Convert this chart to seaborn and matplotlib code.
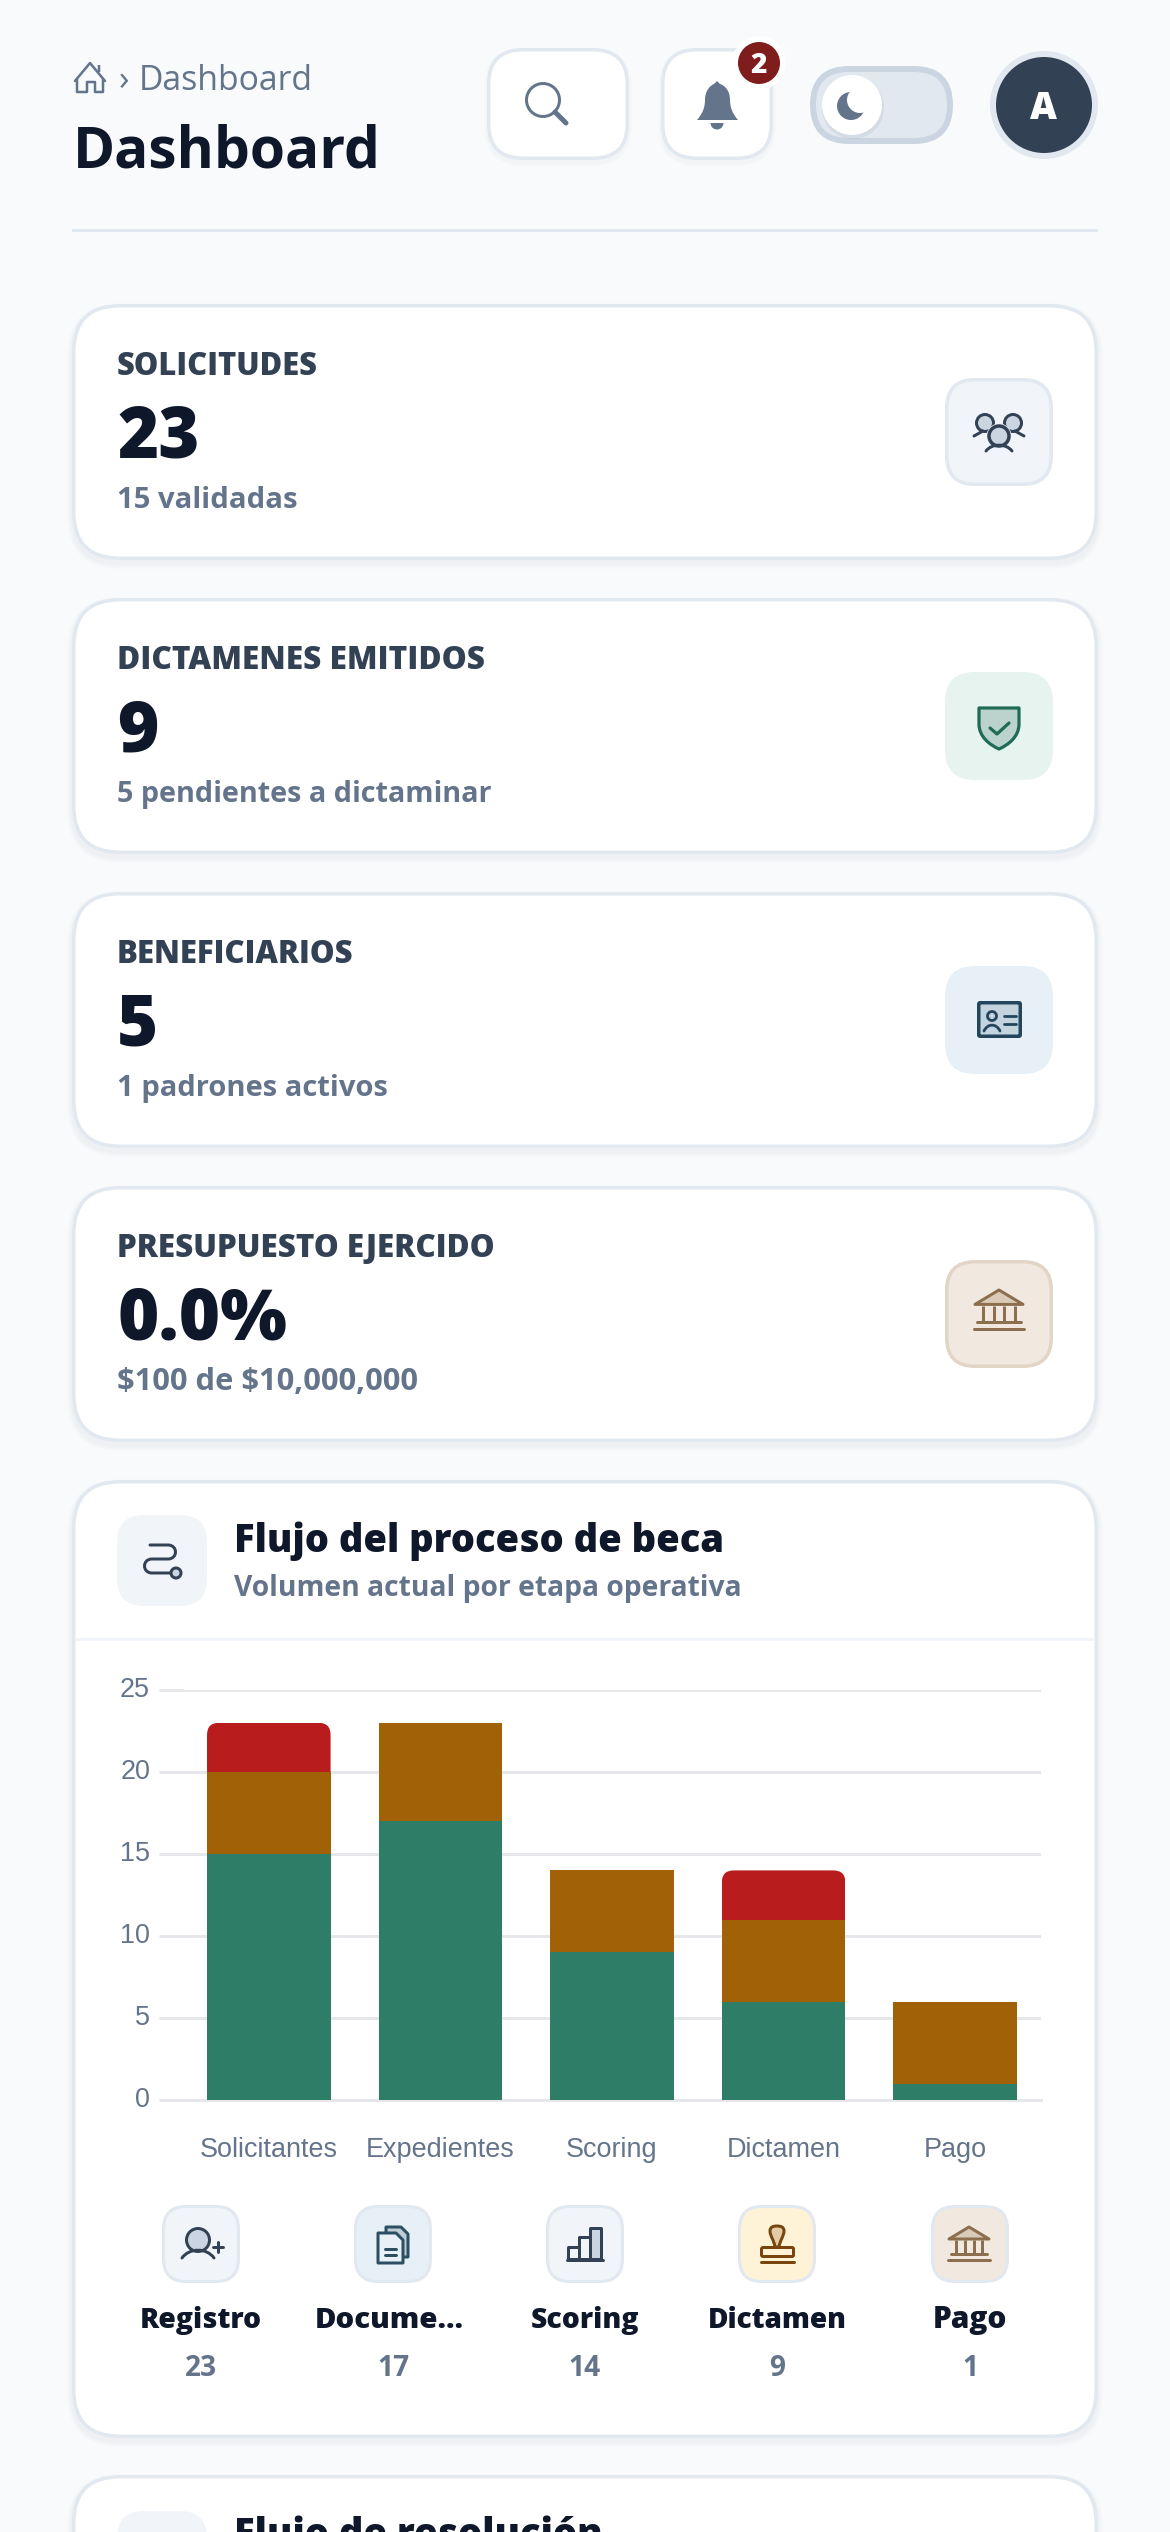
import matplotlib
matplotlib.use("Agg")
import matplotlib.pyplot as plt
import pandas as pd
import seaborn as sns
from matplotlib.font_manager import FontProperties
from matplotlib.patches import FancyBboxPatch, Circle, Wedge, PathPatch, Polygon, Rectangle
from matplotlib.path import Path
from matplotlib.textpath import TextPath
from matplotlib.transforms import IdentityTransform, ScaledTranslation

# ---------- data ----------
stages = ["Solicitantes", "Expedientes", "Scoring", "Dictamen", "Pago"]
validated = [15, 17, 9, 6, 1]
pending = [5, 6, 5, 5, 5]
rejected = [3, 0, 0, 3, 0]
y_ticks = [0, 5, 10, 15, 20, 25]

kpi_labels = ["SOLICITUDES", "DICTAMENES EMITIDOS", "BENEFICIARIOS", "PRESUPUESTO EJERCIDO"]
kpi_values = ["23", "9", "5", "0.0%"]
kpi_subs = ["15 validadas", "5 pendientes a dictaminar", "1 padrones activos", "$100 de $10,000,000"]

step_labels = ["Registro", "Docume...", "Scoring", "Dictamen", "Pago"]
step_counts = [23, 17, 14, 9, 1]

# text widths in pixels, as measured on the reference
kpi_label_widths = [199, 365, 234, 374]
kpi_sub_widths = [177, 373, 268, 299]
step_label_widths = [119, 145, 107, 135, 71]

W, H = 1170, 2532
DPI = 100
PT = 72 / DPI
FAM = "Open Sans"

BG = "#F8FAFC"; BORDER = "#E2E8F0"; INK = "#0F172A"; SLATE = "#334155"; MUTED = "#64748B"
GREEN = "#2E7D67"; AMBER = "#A16207"; RED = "#B91C1C"; GRID = "#E5E7EB"

sns.set_theme(style="white")
plt.rcParams["font.family"] = [FAM, "DejaVu Sans"]

fig = plt.figure(figsize=(W / DPI, H / DPI), dpi=DPI, facecolor=BG)
ui = fig.add_axes([0, 0, 1, 1], zorder=0)
ui.set_xlim(0, W); ui.set_ylim(H, 0); ui.axis("off")


def fit(s, width, weight):
    """Font size in pixels at which s in FAM is width pixels wide."""
    ext = TextPath((0, 0), s.replace("$", r"\$"), size=100,
                   prop=FontProperties(family=FAM, weight=weight)).get_extents()
    return 100 * width / ext.width


CRUMB_PX = fit("Dashboard", 168, 400)
TITLE_PX = fit("Dashboard", 299, 700)
VALUE_PX = fit("0.0%", 166, 800)
HEAD_PX = fit("Flujo del proceso de beca", 485, 800)
HSUB_PX = fit("Volumen actual por etapa operativa", 505, 700)
COUNT_PX = fit("23", 30, 700)


def rrect(x0, y0, x1, y1, r, fc, ec="none", lw=0.0, z=1, alpha=None):
    """Rounded box whose outer edge is x0..x1, y0..y1 in pixels."""
    i = lw / 2
    rr = max(r - i, 0.1)
    p = FancyBboxPatch((x0 + i + rr, y0 + i + rr), x1 - x0 - 2 * i - 2 * rr, y1 - y0 - 2 * i - 2 * rr,
                       boxstyle=f"round,pad={rr},rounding_size={rr}", fc=fc, ec=ec, lw=lw * PT,
                       zorder=z, alpha=alpha, joinstyle="round")
    ui.add_patch(p)
    return p


def shadow(x0, y0, x1, y1, r, dy=4, spread=10, z=0.5):
    for k in range(spread, 0, -2):
        rrect(x0 - k * 0.5, y0 + dy - k * 0.5, x1 + k * 0.5, y1 + dy + k * 0.5, r + k * 0.5,
              "#94A3B8", z=z, alpha=0.016)


def card(x0, y0, x1, y1, r=48):
    shadow(x0, y0, x1, y1, r)
    rrect(x0, y0, x1, y1, r, "white", BORDER, 3.5, z=1)


def line(xs, ys, c=SLATE, lw=3.0, z=3, cap="round"):
    ui.plot(xs, ys, color=c, lw=lw * PT, solid_capstyle=cap, solid_joinstyle="round", zorder=z)


def txt(x, y, s, px, c, w=400, ha="left", z=4):
    ui.text(x, y, s, fontsize=px * PT, color=c, fontweight=w, ha=ha, va="baseline", zorder=z,
            family=FAM, parse_math=False)


def circ(x, y, r, fc, ec="none", lw=0.0, z=3, alpha=None):
    ui.add_patch(Circle((x, y), r, fc=fc, ec=ec, lw=lw * PT, zorder=z, alpha=alpha))


def poly(points, fc, ec="none", lw=0.0, z=3):
    ui.add_patch(Polygon(points, closed=True, fc=fc, ec=ec, lw=lw * PT, zorder=z, joinstyle="round"))


def curve(vertices, codes, fc="none", ec="none", lw=0.0, z=3):
    ui.add_patch(PathPatch(Path(vertices, codes), fc=fc, ec=ec, lw=lw * PT, zorder=z,
                           capstyle="round", joinstyle="round"))


def body_arc(cx, y_low, half, rise, c=SLATE, lw=3.0):
    """Shoulder curve of a person glyph."""
    curve([(cx - half, y_low), (cx - half * 0.55, y_low - rise * 1.3), (cx + half * 0.55, y_low - rise * 1.3),
           (cx + half, y_low)], [Path.MOVETO, Path.CURVE4, Path.CURVE4, Path.CURVE4], ec=c, lw=lw)


def bank(cx, top, s, c="#8B6F4E", roof="#D9CBB8"):
    poly([(cx - 20 * s, top + 12 * s), (cx, top), (cx + 20 * s, top + 12 * s)], roof, c, 3)
    for dx in (-13, -4.5, 4.5, 13):
        line([cx + dx * s, cx + dx * s], [top + 13 * s, top + 26 * s], c, 3, cap="butt")
    line([cx - 18 * s, cx + 18 * s], [top + 26.5 * s] * 2, c, 3)
    line([cx - 21 * s, cx + 21 * s], [top + 32.5 * s] * 2, c, 3)


# ---------- header ----------
line([75, 90, 105], [81, 63, 81], MUTED, 2.5)
line([77, 77, 87, 87, 95, 95, 103, 103], [79, 92, 92, 82, 82, 92, 92, 79], MUTED, 2.5)
line([99, 99], [65, 72], MUTED, 2.5, cap="butt")
txt(119, 90, "›", 35, MUTED)
txt(139, 90, "Dashboard", CRUMB_PX, MUTED)
txt(73, 168, "Dashboard", TITLE_PX, INK, 700)

shadow(487, 48, 629, 160, 36, dy=3, spread=6)
rrect(487, 48, 629, 160, 36, "white", BORDER, 3.5, z=1)
circ(543, 100, 16.5, "white", MUTED, 3)
line([555, 566], [112, 123], MUTED, 5)

shadow(661, 48, 773, 160, 36, dy=3, spread=6)
rrect(661, 48, 773, 160, 36, "white", BORDER, 3.5, z=1)
curve([(697, 120), (703, 113), (705, 107), (705, 100), (705, 90), (711, 85), (714, 84), (717, 81), (720, 84),
       (724, 85), (730, 90), (730, 100), (730, 107), (732, 113), (738, 120), (697, 120)],
      [Path.MOVETO] + [Path.CURVE4] * 6 + [Path.LINETO, Path.LINETO] + [Path.CURVE4] * 6 + [Path.CLOSEPOLY],
      fc=MUTED)
ui.add_patch(Wedge((717, 123), 6.5, 0, 180, fc=MUTED, ec="none", zorder=3))
circ(759, 63, 27, "white", z=4)
circ(759, 63, 21, "#7F1D1D", z=5)
txt(759, 73, "2", 28, "white", 800, ha="center", z=6)

rrect(810, 66, 953, 144, 39, "#E2E8F0", "#CBD5E1", 6, z=1)
circ(853, 108, 31, "#94A3B8", z=1.5, alpha=0.18)
circ(852, 105, 30, "white", z=2)
circ(851, 106, 14, MUTED, z=3)
circ(860, 100, 13, "white", z=3.5)

circ(1044, 105, 54, BORDER, z=1)
circ(1044, 105, 48, SLATE, z=2)
txt(1044, 119, "A", fit("A", 27, 800), "white", 800, ha="center")

ui.add_patch(Rectangle((72, 228.5), 1026, 3, fc=BORDER, ec="none", zorder=1))

# ---------- KPI cards ----------
card_tops = [304, 598, 892, 1186]
tile_styles = [("#F1F5F9", BORDER, 3.5), ("#E6F3EE", "#E6F3EE", 0), ("#E7F0F6", "#E7F0F6", 0), ("#F1E8DF", "#E3D5C6", 3.5)]
for top, lab, val, sub, lw_, sw_, (fc, ec, b) in zip(card_tops, kpi_labels, kpi_values, kpi_subs,
                                                     kpi_label_widths, kpi_sub_widths, tile_styles):
    card(72, top, 1098, top + 256)
    txt(117, top + 71, lab, fit(lab, lw_, 800), SLATE, 800)
    txt(117, top + 153, val, VALUE_PX, INK, 800)
    txt(117, top + 204, sub, fit(sub, sw_, 700), MUTED, 700)
    rrect(945, top + 74, 1053, top + 182, 30, fc, ec, b, z=2)

# users glyph
for hx in (985, 1013):
    circ(hx, 423, 8.5, "#CBD5E1", SLATE, 3)
line([974, 983], [436, 431]); line([1024, 1015], [436, 431])
circ(999, 436, 12.5, "#F1F5F9", z=3)
circ(999, 436, 10, "#CBD5E1", SLATE, 3.5)
body_arc(999, 451, 13, 6)

# shield glyph
SH = [(979, 708), (1019, 708), (1019, 724), (1019, 737), (1008, 745), (999, 749), (990, 745), (979, 737),
      (979, 724), (979, 708)]
curve(SH, [Path.MOVETO, Path.LINETO, Path.LINETO, Path.CURVE4, Path.CURVE4, Path.CURVE4, Path.CURVE4, Path.CURVE4,
           Path.CURVE4, Path.CLOSEPOLY], fc="#BBD3CC", ec="#1F6B55", lw=3.2)
line([990, 997, 1009], [728, 734, 723], "#1F6B55", 3.2)

# id-card glyph
rrect(977, 1001, 1022, 1038, 3, "#C3D4DF", "#24465C", 3.5, z=3)
circ(992, 1016, 4.5, "#C3D4DF", "#24465C", 2.8, z=4)
body_arc(992, 1031, 8, 6, "#24465C", 2.8)
line([1004, 1016], [1016, 1016], "#24465C", 2.8)
line([1004, 1016], [1024, 1024], "#24465C", 2.8)

bank(999, 1290, 1.2)

# ---------- flow card ----------
card(72, 1480, 1098, 2438)
rrect(117, 1515, 207, 1606, 27, "#F1F5F9", z=2)
M, L, C = Path.MOVETO, Path.LINETO, Path.CURVE4
curve([(150, 1545), (168, 1545), (178, 1545), (178, 1559), (168, 1559), (152, 1559), (142, 1559), (142, 1573),
       (152, 1573), (171, 1573)], [M, L, C, C, C, L, C, C, C, L], ec=SLATE, lw=3)
circ(176, 1573, 5, "#CBD5E1", SLATE, 3)
txt(234, 1552, "Flujo del proceso de beca", HEAD_PX, INK, 800)
txt(234, 1596, "Volumen actual por etapa operativa", HSUB_PX, MUTED, 700)
ui.add_patch(Rectangle((75, 1637.5), 1020, 3, fc="#F1F5F9", ec="none", zorder=2))

# ---------- stacked bar chart ----------
AX_L, AX_R, AX_T, AX_B = 183, 1041, 1690, 2100
ax = fig.add_axes([AX_L / W, 1 - AX_B / H, (AX_R - AX_L) / W, (AX_B - AX_T) / H], zorder=2, facecolor="none")
df = pd.DataFrame({"stage": stages, "validated": validated, "pending": pending, "rejected": rejected})
df["pending_base"] = df["validated"]
df["rejected_base"] = df["validated"] + df["pending"]
bar_kw = dict(data=df, x="stage", order=stages, saturation=1, width=0.72, linewidth=0, ax=ax, zorder=3)
sns.barplot(y="validated", color=GREEN, **bar_kw)
sns.barplot(y="pending", color=AMBER, bottom=df["pending_base"], **bar_kw)
n0 = len(ax.patches)
sns.barplot(y="rejected", color=RED, bottom=df["rejected_base"], **bar_kw)
ax.set_ylim(0, 25); ax.set_xlim(-0.5, 4.5)
ax.set_yticks(y_ticks)
ax.set_xlabel(""); ax.set_ylabel("")
for s in ("top", "right", "left"):
    ax.spines[s].set_visible(False)
ax.spines["bottom"].set_color(GRID); ax.spines["bottom"].set_linewidth(3 * PT)
ax.grid(axis="y", color=GRID, lw=3 * PT, zorder=0); ax.grid(axis="x", visible=False)
ax.set_axisbelow(True)
ax.tick_params(axis="y", length=24 * PT, width=3 * PT, color=GRID, pad=9 * PT, labelsize=27 * PT, labelcolor=MUTED, left=True)
ax.tick_params(axis="x", length=0, pad=37 * PT, labelsize=27 * PT, labelcolor=MUTED)
for t in ax.get_xticklabels() + ax.get_yticklabels():
    t.set_family("Liberation Sans")
lift = ScaledTranslation(0, 3 / DPI, fig.dpi_scale_trans)
for t in ax.get_yticklabels():
    t.set_transform(t.get_transform() + lift)

fig.canvas.draw()
for bar in ax.patches[n0:]:
    if bar.get_height() > 0:
        e = bar.get_window_extent()
        rad = 12
        clip = FancyBboxPatch((e.x0 + rad, e.y0 - 30), e.width - 2 * rad, e.height + 30 - rad,
                              boxstyle=f"round,pad={rad},rounding_size={rad}", transform=IdentityTransform())
        bar.set_clip_path(clip)

# ---------- step strip ----------
step_x = [201, 393, 585, 777, 970]
step_label_x = [201, 389, 585, 777, 970]
step_tiles = ["#F1F5F9", "#E7F0F6", "#F1F5F9", "#FEF3D6", "#F1E8DF"]
for x, lx, lab, wid, cnt, fc in zip(step_x, step_label_x, step_labels, step_label_widths, step_counts, step_tiles):
    rrect(x - 39, 2205, x + 39, 2283, 24, fc, BORDER, 3, z=2)
    txt(lx, 2328, lab, fit(lab, wid, 800), INK, 800, ha="center")
    txt(x, 2376, str(cnt), COUNT_PX, MUTED, 700, ha="center")

# person + glyph
circ(198, 2240, 11.5, "#CBD5E1", SLATE, 3)
body_arc(198, 2258, 16, 8)
line([213, 223], [2247, 2247], SLATE, 3); line([218, 218], [2242, 2252], SLATE, 3)

# documents glyph
D = "#2D4F63"
poly([(386, 2227), (401, 2227), (408, 2234), (408, 2257), (386, 2257)], "#BFCCD4", D, 3)
poly([(378, 2233), (396, 2233), (403, 2240), (403, 2263), (378, 2263)], "#E7F0F6", D, 3)
line([385, 396], [2249, 2249], D, 3); line([385, 396], [2255, 2255], D, 3)

# bars glyph
poly([(568, 2247), (579, 2247), (579, 2259), (568, 2259)], "#F1F5F9", SLATE, 3)
poly([(579, 2237), (590, 2237), (590, 2259), (579, 2259)], "#F1F5F9", SLATE, 3)
poly([(590, 2228), (601, 2228), (601, 2259), (590, 2259)], "#CBD5E1", SLATE, 3)
line([567, 603], [2260, 2260], SLATE, 3)

# stamp glyph
ST = "#78450F"
curve([(775, 2247), (774, 2240), (770, 2236), (770, 2231), (770, 2227), (773, 2226), (777, 2226), (781, 2226), (784, 2227),
       (784, 2231), (784, 2236), (780, 2240), (779, 2247), (775, 2247)],
      [M, C, C, C, C, C, C, C, C, C, C, C, C, Path.CLOSEPOLY], fc="#E2CBA5", ec=ST, lw=3)
rrect(760, 2246, 795, 2258, 3, "#FEF3D6", ST, 3, z=3)
line([761, 794], [2262, 2262], ST, 3)

bank(969, 2227, 1.0)

# ---------- next card, cut by the page edge ----------
card(72, 2475, 1098, 2600)
rrect(117, 2511, 207, 2602, 27, "#F1F5F9", z=2)
txt(234, 2546, "Flujo de resolución", HEAD_PX, INK, 800)

fig.savefig("out.png", dpi=DPI, facecolor=BG)
